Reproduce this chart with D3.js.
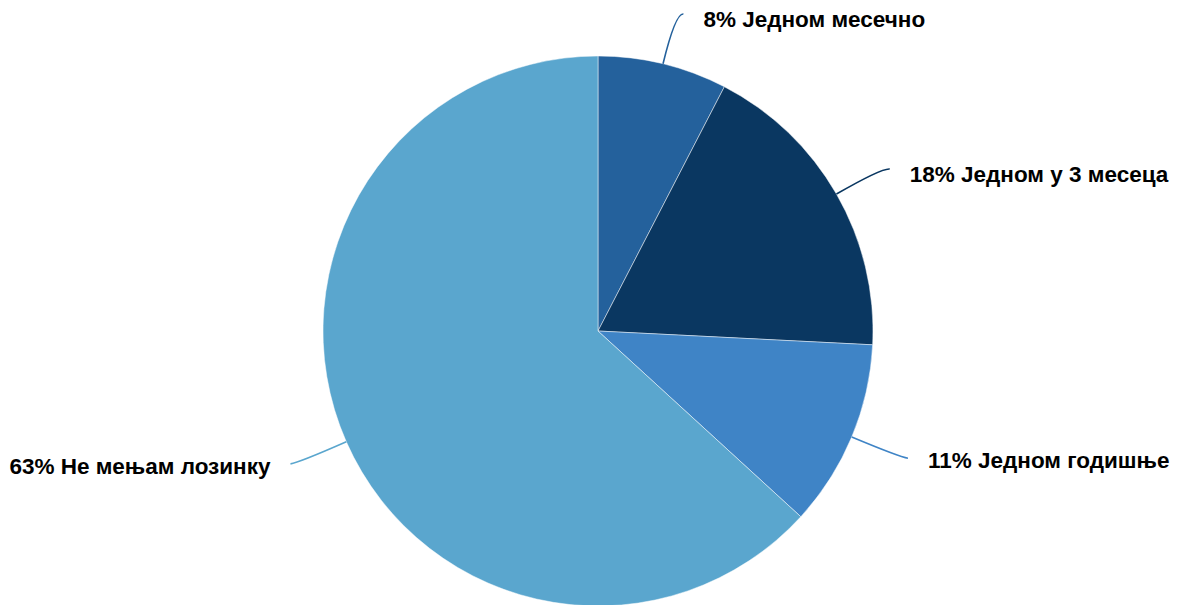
<!DOCTYPE html>
<html><head><meta charset="utf-8">
<script src="https://cdn.jsdelivr.net/npm/d3@7"></script>
<style>html,body{margin:0;padding:0;background:#fff;}</style>
</head><body>
<svg id="chart" width="1183" height="605"></svg>
<script>
const categories = ["Једном месечно", "Једном у 3 месеца", "Једном годишње", "Не мењам лозинку"];
const values = [7.6, 18.2, 11.0, 63.2];
const percentLabels = ["8%", "18%", "11%", "63%"];
const colors = ["#24619c", "#0a3761", "#3f84c6", "#5aa6ce"];

const svg = d3.select("#chart");
const cx = 598, cy = 331, r = 275;
const g = svg.append("g").attr("transform", `translate(${cx},${cy})`);

const data = categories.map((c, i) => ({cat: c, value: values[i], pct: percentLabels[i], color: colors[i]}));
const pie = d3.pie().value(d => d.value).sort(null);
const arcs = pie(data);
const arc = d3.arc().innerRadius(0).outerRadius(r);

g.selectAll("path.slice").data(arcs).join("path")
  .attr("class", "slice")
  .attr("d", arc)
  .attr("fill", d => d.data.color)
  .attr("stroke", "rgba(255,255,255,0.6)")
  .attr("stroke-width", 0.8);

arcs.forEach(a => {
  const mid = (a.startAngle + a.endAngle) / 2;
  const sx = Math.sin(mid), sy = -Math.cos(mid);
  const p0 = [sx * r, sy * r];
  const pc = [sx * r * 1.19, sy * r * 1.19];
  const side = sx >= 0 ? 1 : -1;
  const p2 = [pc[0] + side * 8, pc[1] + 1];
  const path = d3.path();
  path.moveTo(p0[0], p0[1]);
  path.quadraticCurveTo(pc[0], pc[1], p2[0], p2[1]);
  g.append("path").attr("d", path.toString())
    .attr("fill", "none").attr("stroke", a.data.color).attr("stroke-width", 1.6);
  g.append("text")
    .attr("x", p2[0] + side * 20)
    .attr("y", p2[1] + (sy < 0 ? 7 : 4))
    .attr("dominant-baseline", "middle")
    .attr("text-anchor", side > 0 ? "start" : "end")
    .attr("font-family", "Liberation Sans, Arial, sans-serif")
    .attr("font-weight", "bold")
    .attr("font-size", 22.5)
    .attr("fill", "#000")
    .text(a.data.pct + " " + a.data.cat);
});
</script>
</body></html>
